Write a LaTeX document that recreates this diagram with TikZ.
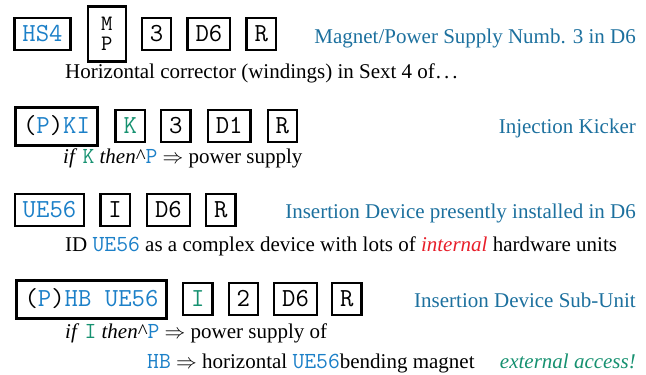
\documentclass[tikz,border=0pt]{standalone}
\usepackage{fontspec}
\setmainfont{Liberation Serif}
\usetikzlibrary{positioning}
\definecolor{lblue}{RGB}{28,112,158}
\definecolor{tblue}{RGB}{28,128,200}
\definecolor{tgreen}{RGB}{22,145,112}
\definecolor{ired}{RGB}{232,30,42}
\newcommand{\tb}[1]{{\fontsize{23}{25}\selectfont\ttfamily\color{tblue}#1}}
\newcommand{\tg}[1]{{\fontsize{23}{25}\selectfont\ttfamily\color{tgreen}#1}}
\begin{document}
\begin{tikzpicture}[x=1pt,y=-1pt]
\tikzset{fld/.style={draw, line width=2.2pt, font=\fontsize{26}{28}\selectfont\ttfamily,
    inner xsep=8pt, inner ysep=0pt, minimum height=32pt, text height=17pt, text depth=3pt},
  bigfld/.style={fld, line width=3pt, minimum height=38pt},
  lbl/.style={anchor=base east, inner sep=0pt, text=lblue, font=\fontsize{21}{25}\selectfont},
  sub/.style={anchor=base west, inner sep=0pt, font=\fontsize{21}{25}\selectfont}}
\useasboundingbox (0,0) rectangle (646,375);
% magnet / power supply
\node[fld, text=tblue] (hs) at (42.5,34) {HS4};
\node[fld, right=15pt of hs, minimum width=38pt, minimum height=55pt, align=center,
  text height=, text depth=, font=\fontsize{22}{20}\selectfont\ttfamily] (mp) {M\\P};
\node[fld, right=14pt of mp] (n1) {3};
\node[fld, right=14pt of n1] (d1) {D6};
\node[fld, right=14pt of d1] (r1) {R};
\node[lbl] (l1) at (636,43) {Magnet/Power Supply Numb. 3 in D6};
\node[sub] (s1) at (65,78) {Horizontal corrector (windings) in Sext 4 of\kern1pt.\kern3pt.\kern3pt.};
% kicker
\node[bigfld] (ki) at (56.5,126) {(\textcolor{tblue}{P})\textcolor{tblue}{KI}};
\node[fld, right=15pt of ki, text=tgreen] (k2) {K};
\node[fld, right=14pt of k2] (n2) {3};
\node[fld, right=15pt of n2] (d2) {D1};
\node[fld, right=15pt of d2] (r2) {R};
\node[lbl] (l2) at (636,133) {Injection Kicker};
\node[sub] (s2) at (63,163) {\textit{if} \tg{K} \textit{then}\^{}\tb{P} $\Rightarrow$ power supply};
% insertion device
\node[fld, text=tblue] (ue) at (49.5,210) {UE56};
\node[fld, right=14pt of ue] (i3) {I};
\node[fld, right=15pt of i3] (d3) {D6};
\node[fld, right=14pt of d3] (r3) {R};
\node[lbl] (l3) at (636,218) {Insertion Device presently installed in D6};
\node[sub] (s3) at (65,251) {ID \tb{UE56} as a complex device with lots of \textit{\color{ired}internal} hardware units};
% sub-unit
\node[bigfld] (hb) at (91.5,299) {(\textcolor{tblue}{P})\textcolor{tblue}{HB UE56}};
\node[fld, right=14pt of hb, text=tgreen] (i4) {I};
\node[fld, right=14pt of i4] (n4) {2};
\node[fld, right=14pt of n4] (d4) {D6};
\node[fld, right=13pt of d4] (r4) {R};
\node[lbl] (l4) at (636,307) {Insertion Device Sub-Unit};
\node[sub] (s4) at (65,338) {\textit{if} \tg{I} \textit{then}\^{}\tb{P} $\Rightarrow$ power supply of};
\node[sub] (s5) at (147,368) {\tb{HB} $\Rightarrow$ horizontal \tb{UE56}bending magnet};
\node[sub, anchor=base east, text=tgreen] (ea) at (636,368) {\textit{external access!}};
\end{tikzpicture}
\end{document}
